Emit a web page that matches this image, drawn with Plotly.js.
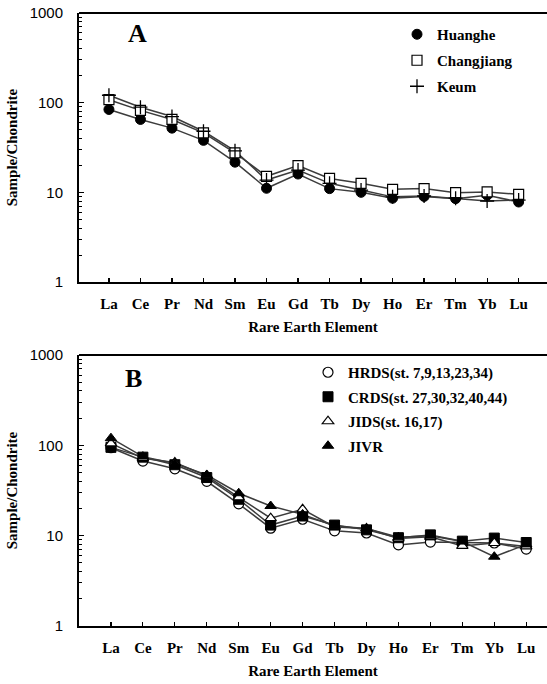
<!DOCTYPE html>
<html>
<head>
<meta charset="utf-8">
<script src="https://cdn.plot.ly/plotly-3.0.1.min.js"></script>
<style>html,body{margin:0;padding:0;background:#fff;}#chart{width:547px;height:684px;}</style>
</head>
<body>
<div id="chart"></div>
<script>
// Categories (rare earth elements)
const elements = ["La","Ce","Pr","Nd","Sm","Eu","Gd","Tb","Dy","Ho","Er","Tm","Yb","Lu"];

// Panel A: river sediments (Sample/Chondrite)
const huanghe    = [84, 65, 52, 38, 21.7, 11.1, 16, 11, 10, 8.6, 9, 8.5, 9.3, 7.8];
const changjiang = [108, 82, 65, 46, 27.5, 15.1, 19.9, 14.3, 12.6, 10.8, 11.0, 9.9, 10.1, 9.5];
const keum       = [121, 89, 70, 48, 29, 13.7, 17.7, 12.6, 10.6, 8.9, 9.1, 8.6, 8.0, 8.2];

// Panel B: deposits
const hrds = [94, 67, 55, 40, 22.5, 12.1, 15.2, 11.3, 10.7, 7.9, 8.5, 8.4, 8.3, 7.1];
const crds = [95, 74, 61, 44, 25.3, 13.1, 16.5, 13.1, 11.6, 9.5, 10.2, 8.7, 9.4, 8.4];
const jids = [105, 72, 64.4, 46, 26.6, 15.6, 19.6, 12.5, 12.0, 9.3, 9.7, 7.7, 8.3, 7.6];
const jivr = [120, 75, 63, 47, 29.5, 21.3, 17.2, 12.8, 12.0, 9.6, 10.0, 8.6, 5.85, 8.0];

const namesA = ["Huanghe", "Changjiang", "Keum"];
const namesB = ["HRDS(st. 7,9,13,23,34)", "CRDS(st. 27,30,32,40,44)", "JIDS(st. 16,17)", "JIVR"];

const LINE = {color: "#3c3c3c", width: 1.5};
const SERIF = "Liberation Serif, Times New Roman, serif";
const serifBold = {family: SERIF, size: 15, color: "#000", weight: 700};

const seriesA = [
  {y: huanghe, name: namesA[0], m: {symbol: "circle", size: 10, color: "#000", line: {color: "#000", width: 1}}},
  {y: changjiang, name: namesA[1], m: {symbol: "square", size: 10, color: "#fff", line: {color: "#000", width: 1.2}}},
  {y: keum, name: namesA[2], m: {symbol: "cross-thin-open", size: 10, color: "#000", line: {color: "#000", width: 1.3}}}
];
const seriesB = [
  {y: hrds, name: namesB[0], m: {symbol: "circle", size: 10, color: "#fff", line: {color: "#000", width: 1.2}}},
  {y: crds, name: namesB[1], m: {symbol: "square", size: 10, color: "#000", line: {color: "#000", width: 1}}},
  {y: jids, name: namesB[2], m: {symbol: "triangle-up", size: 10, color: "#fff", line: {color: "#000", width: 1.2}}},
  {y: jivr, name: namesB[3], m: {symbol: "triangle-up", size: 10, color: "#000", line: {color: "#000", width: 1}}}
];

const traces = [];
seriesA.forEach((s, i) => traces.push({x: elements, y: s.y, xaxis: "x", yaxis: "y", mode: "lines", line: LINE, showlegend: false, hoverinfo: "skip"}));
seriesB.forEach((s, i) => traces.push({x: elements, y: s.y, xaxis: "x2", yaxis: "y2", mode: "lines", line: LINE, showlegend: false, hoverinfo: "skip"}));
seriesA.forEach((s, i) => traces.push({x: elements, y: s.y, xaxis: "x", yaxis: "y", mode: "markers", marker: s.m, name: s.name, legend: "legend", legendgroup: "a" + i}));
seriesB.forEach((s, i) => traces.push({x: elements, y: s.y, xaxis: "x2", yaxis: "y2", mode: "markers", marker: s.m, name: s.name, legend: "legend2", legendgroup: "b" + i}));

function xAxis(range) {
  return {
    type: "category", range: range, domain: [0, 1],
    showline: true, linecolor: "#000", linewidth: 2,
    ticks: "inside", ticklen: 4, tickwidth: 1.2, tickcolor: "#000",
    tickfont: serifBold, ticklabelstandoff: 7,
    showgrid: false, zeroline: false,
    title: {text: "Rare Earth Element", font: {family: SERIF, size: 15, color: "#000", weight: 700}, standoff: 10}
  };
}
function yAxis(domain) {
  return {
    type: "log", range: [0, 3], domain: domain,
    tickvals: [1, 10, 100, 1000], ticktext: ["1", "10", "100", "1000"],
    showline: true, linecolor: "#000", linewidth: 2,
    ticks: "inside", ticklen: 5, tickwidth: 1, tickcolor: "#000",
    minor: {ticks: "inside", ticklen: 3, tickwidth: 1, tickcolor: "#000", dtick: "D1", showgrid: false},
    tickfont: {family: "Liberation Sans, Arial, sans-serif", size: 15, color: "#000"},
    ticklabelstandoff: 11,
    showgrid: false, zeroline: false,
    title: {text: "Sample/Chondrite", font: {family: SERIF, size: 15, color: "#000", weight: 700}, standoff: 8}
  };
}

const legendFont = {family: SERIF, size: 15, color: "#000", weight: 700};

const layout = {
  width: 547, height: 684,
  margin: {l: 79, r: 0, t: 0, b: 0},
  paper_bgcolor: "#fff", plot_bgcolor: "#fff",
  showlegend: true,
  xaxis: xAxis([-0.95, 13.9]),
  yaxis: yAxis([1 - 282/684, 1 - 13/684]),
  xaxis2: Object.assign(xAxis([-1.0, 13.65]), {anchor: "y2"}),
  yaxis2: Object.assign(yAxis([1 - 626/684, 1 - 355/684]), {anchor: "x2"}),
  legend: {x: (397 - 79)/468, y: 1 - 18/684, xanchor: "left", yanchor: "top", font: legendFont, bgcolor: "rgba(0,0,0,0)", tracegroupgap: 3.5, traceorder: "grouped"},
  legend2: {x: (308 - 79)/468, y: 1 - 356/684, xanchor: "left", yanchor: "top", font: legendFont, bgcolor: "rgba(0,0,0,0)", tracegroupgap: 2, traceorder: "grouped"},
  shapes: [
    {type: "line", xref: "x domain", yref: "y domain", x0: 0, x1: 1, y0: 1, y1: 1, line: {color: "#000", width: 2}},
    {type: "line", xref: "x2 domain", yref: "y2 domain", x0: 0, x1: 1, y0: 1, y1: 1, line: {color: "#000", width: 2}}
  ],
  annotations: [
    {text: "A", xref: "paper", yref: "paper", x: (137 - 79)/468, y: 1 - 33/684, showarrow: false, xanchor: "center", yanchor: "middle", font: {family: SERIF, size: 26, color: "#000", weight: 700}},
    {text: "B", xref: "paper", yref: "paper", x: (133 - 79)/468, y: 1 - 378/684, showarrow: false, xanchor: "center", yanchor: "middle", font: {family: SERIF, size: 26, color: "#000", weight: 700}}
  ]
};

Plotly.newPlot("chart", traces, layout, {displayModeBar: false, staticPlot: true});
</script>
</body>
</html>
